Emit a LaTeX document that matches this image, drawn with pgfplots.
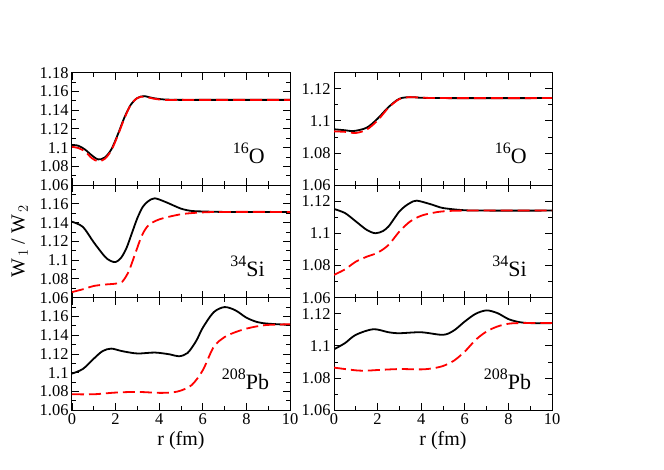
\documentclass[border=0pt]{standalone}
\usepackage{fontspec}
\setmainfont{Liberation Serif}
\newfontfamily\tnr{Liberation Serif}
\usepackage{pgfplots}
\pgfplotsset{compat=1.18}
\usepgfplotslibrary{groupplots}
\usetikzlibrary{calc}

% superscripted nucleus label
\newcommand{\iso}[2]{{\fontsize{16}{16}\selectfont\raisebox{10bp}{#1}}#2}
\tikzset{nuc/.style={anchor=base east, font=\tnr\fontsize{22}{24}\selectfont}}

\pgfplotsset{
  panel/.style={
    width=218bp, height=112.5bp, scale only axis,
    xmin=0, xmax=10,
    xtick={0,2,...,10}, minor xtick={1,3,...,9},
    xtick pos=both, ytick pos=both,
    xticklabel pos=lower, yticklabel pos=left,
    tick align=inside,
    major tick length=7bp, minor tick length=4bp,
    every tick/.style={black, line width=0.9bp},
    axis line style={line width=1bp},
    ticklabel style={font=\tnr\fontsize{16.5}{18}\selectfont},
    /pgf/number format/assume math mode=true,
    label style={font=\tnr\fontsize{20}{22}\selectfont},
  },
  leftcol/.style={ymin=1.06, ymax=1.18,
    ytick={1.06,1.08,1.10,1.12,1.14,1.16},
    minor ytick={1.07,1.09,1.11,1.13,1.15,1.17}},
  rightcol/.style={ymin=1.06, ymax=1.13,
    ytick={1.06,1.08,1.10,1.12},
    minor ytick={1.07,1.09,1.11,1.13}},
  fullc/.style={black, line width=1.8bp, smooth},
  redc/.style={red, line width=1.8bp, smooth, dash pattern=on 12bp off 5bp},
}

\begin{document}
\begin{tikzpicture}
\begin{groupplot}[
  group style={group size=2 by 3, horizontal sep=44bp, vertical sep=0pt,
    xticklabels at=edge bottom, x descriptions at=edge bottom},
  panel]

% ---- left, 16O
\nextgroupplot[leftcol, ytick={1.06,1.08,1.10,1.12,1.14,1.16,1.18}]
\addplot[fullc] coordinates {(0,1.103)(0.3,1.102)(0.6,1.098)(0.9,1.092)(1.2,1.0875)(1.5,1.0895)(1.8,1.098)(2.1,1.114)(2.4,1.132)(2.7,1.146)(3.0,1.153)(3.3,1.155)(3.7,1.153)(4.2,1.1515)(5,1.151)(6,1.151)(8,1.151)(10,1.151)};
\addplot[redc] coordinates {(0,1.101)(0.3,1.0995)(0.6,1.096)(0.9,1.089)(1.2,1.0855)(1.5,1.088)(1.8,1.097)(2.1,1.113)(2.4,1.131)(2.7,1.146)(3.0,1.153)(3.3,1.1545)(3.7,1.1525)(4.2,1.151)(5,1.151)(10,1.151)};
\node[nuc] at (rel axis cs:0.9,0.19) {\iso{16}{O}};

% ---- right, 16O
\nextgroupplot[rightcol]
\addplot[fullc] coordinates {(0,1.0948)(0.5,1.0942)(0.9,1.0937)(1.5,1.0958)(2,1.1014)(2.5,1.1086)(3,1.1138)(3.5,1.1148)(4,1.1144)(5,1.1142)(10,1.1142)};
\addplot[redc] coordinates {(0,1.0935)(0.5,1.0932)(1,1.0925)(1.5,1.0946)(2,1.1003)(2.5,1.1082)(3,1.1136)(3.5,1.1148)(4,1.1145)(5,1.1142)(10,1.1142)};
\node[nuc] at (rel axis cs:0.9,0.19) {\iso{16}{O}};

% ---- left, 34Si
\nextgroupplot[leftcol, ylabel={W$_{\,1}$ / W$_{\,2}$},
  ylabel style={at={(axis description cs:-0.24,0.5)}, anchor=center}]
\addplot[fullc] coordinates {(0,1.141)(0.5,1.1355)(1.0,1.119)(1.5,1.104)(1.75,1.0995)(2.0,1.098)(2.25,1.1025)(2.5,1.113)(2.75,1.129)(3.0,1.145)(3.25,1.157)(3.5,1.163)(3.8,1.166)(4.3,1.162)(5.0,1.155)(5.5,1.1525)(6,1.152)(7,1.1515)(10,1.1515)};
\addplot[redc] coordinates {(0,1.066)(0.5,1.069)(1.0,1.0725)(1.5,1.074)(2.0,1.075)(2.3,1.077)(2.6,1.088)(2.9,1.107)(3.2,1.126)(3.5,1.137)(4.0,1.1435)(5.0,1.149)(6.0,1.151)(7,1.1515)(10,1.1515)};
\node[nuc] at (rel axis cs:0.9,0.19) {\iso{34}{Si}};

% ---- right, 34Si
\nextgroupplot[rightcol]
\addplot[fullc] coordinates {(0,1.1152)(0.5,1.1127)(1,1.1075)(1.5,1.1022)(1.9,1.1001)(2.25,1.1015)(2.5,1.1043)(2.75,1.109)(3,1.1137)(3.25,1.1168)(3.5,1.119)(3.8,1.1204)(4.5,1.1179)(5,1.1158)(6,1.1144)(7,1.1142)(10,1.1142)};
\addplot[redc] coordinates {(0,1.0742)(0.5,1.0776)(1,1.0824)(1.5,1.0855)(2,1.088)(2.5,1.0928)(3,1.1012)(3.5,1.1075)(4,1.111)(4.5,1.1127)(5,1.1137)(6,1.1142)(10,1.1142)};
\node[nuc] at (rel axis cs:0.9,0.19) {\iso{34}{Si}};

% ---- left, 208Pb
\nextgroupplot[leftcol, xlabel={r (fm)}]
\addplot[fullc] coordinates {(0,1.099)(0.5,1.104)(1,1.115)(1.4,1.123)(1.8,1.1257)(2.3,1.123)(3,1.1205)(3.8,1.1215)(4.5,1.1195)(4.9,1.1175)(5.3,1.121)(5.7,1.134)(6.0,1.148)(6.5,1.1645)(7,1.170)(7.5,1.1665)(8,1.1587)(8.5,1.154)(9,1.1523)(10,1.151)};
\addplot[redc] coordinates {(0,1.077)(1,1.077)(2,1.0788)(3,1.0795)(4,1.0785)(4.6,1.079)(5,1.081)(5.5,1.087)(6,1.1026)(6.5,1.1275)(7,1.138)(7.5,1.1433)(8,1.147)(8.5,1.1495)(9,1.151)(10,1.1517)};
\node[nuc] at (rel axis cs:0.92,0.18) {\iso{208}{Pb}};

% ---- right, 208Pb
\nextgroupplot[rightcol, xlabel={r (fm)}]
\addplot[fullc] coordinates {(0,1.0979)(0.5,1.1017)(1,1.1069)(1.8,1.1104)(2.5,1.1085)(3,1.1079)(4,1.1085)(5,1.1069)(5.5,1.1096)(6,1.1152)(6.5,1.12)(7,1.1221)(7.5,1.1204)(8,1.1167)(8.5,1.1148)(9,1.1142)(10,1.1142)};
\addplot[redc] coordinates {(0,1.0865)(1,1.0848)(1.5,1.0846)(2,1.085)(3,1.0856)(4,1.0854)(4.5,1.086)(5,1.0875)(5.5,1.0908)(6,1.0965)(6.5,1.1038)(7,1.109)(7.5,1.1121)(8,1.1138)(8.5,1.1142)(10,1.1142)};
\node[nuc] at (rel axis cs:0.92,0.18) {\iso{208}{Pb}};
\end{groupplot}
\path[use as bounding box] ($(group c1r1.north west)+(-72bp,72.7bp)$) rectangle ($(group c1r1.north west)+(592bp,-397.3bp)$);
\end{tikzpicture}
\end{document}
